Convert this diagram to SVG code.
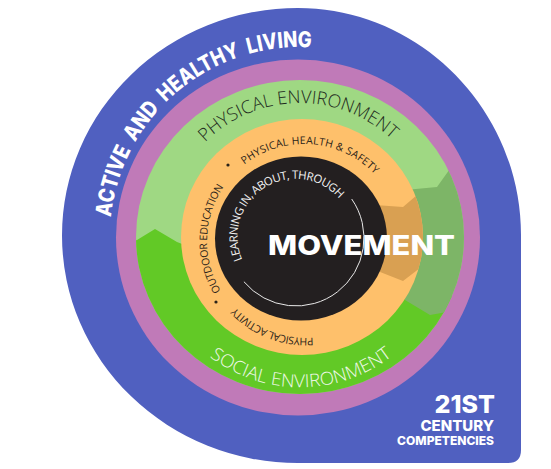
<svg xmlns="http://www.w3.org/2000/svg" width="551" height="469" viewBox="0 0 551 469">
<defs>
<style>
.bold{font-family:Inter,"Open Sans","Liberation Sans",sans-serif;font-weight:800;fill:#fff}
.thin{font-family:"Open Sans",Inter,"Liberation Sans",sans-serif;font-weight:300}
.small{font-family:"Open Sans",Inter,"Liberation Sans",sans-serif;font-weight:400;font-size:10.5px;fill:#2a2218}
</style>
<clipPath id="greenClip"><ellipse cx="300" cy="237" rx="164" ry="157"/></clipPath>
<clipPath id="orangeClip"><ellipse cx="302" cy="237" rx="121" ry="118"/></clipPath>
<path id="pBlue" d="M111,217.1 A190,190 0 0 1 308.3,47.2"/>
<path id="pPhys" d="M205.25,142.25 A134,134 0 0 1 392.2,139.8"/>
<path id="pSoc" d="M209.7,356.8 A150,150 0 0 0 394.4,354.2"/>
<path id="pOut" d="M220.9,291.0 A97,97 0 0 1 223.6,186.8"/>
<path id="pHealth" d="M244.3,164.6 A97,97 0 0 1 375.8,175.6"/>
<path id="pAct" d="M313.1,337.6 A97,97 0 0 1 236.6,308.8"/>
<path id="pLearn" d="M242.2,259.7 A58,58 0 0 1 341.8,201.9"/>
</defs>
<g id="outer">
<path d="M298,8 A236,227.5 0 0 0 298,463 L508,463 Q521,463 521,450 L521,235 C521,110 420,8 298,8 Z" fill="#5060c0"/>
</g>
<g id="ring-purple"><ellipse cx="298" cy="237.5" rx="182" ry="178" fill="#c07ab8"/></g>
<g id="ring-green">
<ellipse cx="300" cy="237" rx="164" ry="157" fill="#9fd883"/>
<g clip-path="url(#greenClip)">
<polygon points="120,246 137,240 155,229 177,242 300,290 420,290 470,300 470,440 120,440" fill="#62c926"/>
<polygon points="470,158 452,166 437,187 405,190 405,300 430,315 470,308" fill="#7db567"/>
</g>
</g>
<g id="ring-orange">
<ellipse cx="302" cy="237" rx="121" ry="118" fill="#fec06b"/>
<g clip-path="url(#orangeClip)">
<polygon points="375,205 403,207 417,195 440,190 440,280 420,268 403,281 375,270" fill="#d9a052"/>
</g>
</g>
<g id="core">
<ellipse cx="301" cy="238.5" rx="86" ry="82" fill="#231f20"/>
<path d="M351.7,199 A68,68 0 0 1 243.9,281.7" fill="none" stroke="#e8e8e8" stroke-width="1"/>
</g>
<g id="labels">
<text class="bold" font-size="22" word-spacing="5"><textPath href="#pBlue" textLength="290" lengthAdjust="spacingAndGlyphs">ACTIVE AND HEALTHY LIVING</textPath></text>
<text class="thin" font-size="18"><textPath href="#pPhys" textLength="206" lengthAdjust="spacingAndGlyphs" fill="#1e2a1c">PHYSICAL ENVIRONMENT</textPath></text>
<text class="thin" font-size="18"><textPath href="#pSoc" textLength="196" lengthAdjust="spacingAndGlyphs" fill="#eef8e6">SOCIAL ENVIRONMENT</textPath></text>
<text class="small"><textPath href="#pOut" textLength="110" lengthAdjust="spacing">OUTDOOR EDUCATION</textPath></text>
<text class="small"><textPath href="#pHealth" textLength="143" lengthAdjust="spacing">PHYSICAL HEALTH &amp; SAFETY</textPath></text>
<text class="small"><textPath href="#pAct" textLength="86" lengthAdjust="spacing">PHYSICAL ACTIVITY</textPath></text>
<circle cx="228" cy="165" r="1.6" fill="#2a2218"/>
<circle cx="216" cy="302" r="1.6" fill="#2a2218"/>
<text font-family="'Open Sans',Inter,sans-serif" font-size="11.5" fill="#f2f2f2"><textPath href="#pLearn" textLength="164" lengthAdjust="spacing">LEARNING IN, ABOUT, THROUGH</textPath></text>
<text class="bold" x="268" y="255" font-size="27" textLength="187" lengthAdjust="spacingAndGlyphs">MOVEMENT</text>
<text class="bold" x="495" y="413" font-size="25" font-weight="900" text-anchor="end">21ST</text>
<text class="bold" x="494" y="431" font-size="15" text-anchor="end">CENTURY</text>
<text class="bold" x="494" y="445" font-size="12" text-anchor="end">COMPETENCIES</text>
</g>
</svg>
